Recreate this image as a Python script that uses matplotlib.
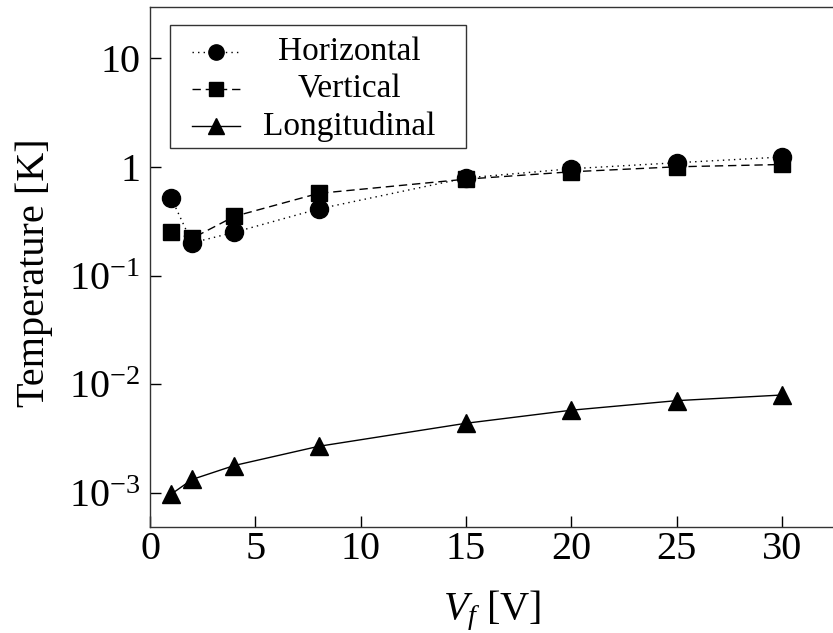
import matplotlib
matplotlib.use("Agg")
import matplotlib.pyplot as plt
from matplotlib.lines import Line2D
from matplotlib.patches import Rectangle

plt.rcParams['font.family'] = ['Liberation Serif', 'DejaVu Serif']
plt.rcParams['mathtext.fontset'] = 'custom'
plt.rcParams['mathtext.rm'] = 'Liberation Serif'
plt.rcParams['mathtext.it'] = 'Liberation Serif:italic'
plt.rcParams['mathtext.bf'] = 'Liberation Serif:bold'

vf = [1, 2, 4, 8, 15, 20, 25, 30]
horizontal = [0.52, 0.20, 0.25, 0.41, 0.79, 0.96, 1.09, 1.23]
vertical = [0.25, 0.22, 0.35, 0.57, 0.77, 0.90, 1.0, 1.05]
longitudinal = [0.98e-3, 1.34e-3, 1.8e-3, 2.7e-3, 4.4e-3, 5.8e-3, 7.1e-3, 8.0e-3]

series_names = ['Horizontal', 'Vertical', 'Longitudinal']

x_ticks = [0, 5, 10, 15, 20, 25, 30]
y_ticks = [1e-3, 1e-2, 1e-1, 1, 10]
y_ticklabels = [r'$10^{-3}$', r'$10^{-2}$', r'$10^{-1}$', '1', '10']

dotted = (0, (1.0, 3.0))
dashed = (0, (6, 3.5))

fig = plt.figure(figsize=(8.33, 6.33), dpi=100)
ax = fig.add_axes([150 / 833, 1 - 527 / 633, 0.822, 520 / 633])

styles = [
    dict(linestyle=dotted, marker='o', markersize=13),
    dict(linestyle=dashed, marker='s', markersize=11.5),
    dict(linestyle='-', marker='^', markersize=13),
]
for ys, st in zip([horizontal, vertical, longitudinal], styles):
    ax.plot(vf, ys, color='black', lw=1.0, **st)

ax.set_yscale('log')
ax.set_xlim(0, 32.5)
ax.set_ylim(4.9e-4, 29.4)
ax.set_xticks(x_ticks)
ax.set_xticklabels([str(t) for t in x_ticks])
ax.set_yticks(y_ticks)
ax.set_yticklabels(y_ticklabels)
ax.minorticks_off()
ax.tick_params(direction='in', length=8, width=1, labelsize=29)
ax.tick_params(axis='x', pad=3)
ax.tick_params(axis='y', pad=7)
ax.spines['right'].set_visible(False)
for s in ax.spines.values():
    s.set_linewidth(1.0)
    s.set_color('#333333')

ax.set_xlabel(r'$V_f$ [V]', fontsize=29)
ax.xaxis.set_label_coords(0.5, -0.118)
ax.set_ylabel('Temperature [K]', fontsize=29)
ax.yaxis.set_label_coords(-0.142, 0.49)

# legend box (centered labels, as in the reference)
ax.add_patch(Rectangle((0.029, 0.729), 0.432, 0.236, transform=ax.transAxes,
                       facecolor='white', edgecolor='#333333', lw=1.0,
                       zorder=5, clip_on=False))
row_y = [0.913, 0.842, 0.771]
leg_ms = [11, 9.5, 11]
for name, st, yy, ms in zip(series_names, styles, row_y, leg_ms):
    ax.add_line(Line2D([0.061, 0.132], [yy, yy], transform=ax.transAxes,
                       color='black', lw=1.0, linestyle=st['linestyle'],
                       zorder=6, clip_on=False))
    ax.add_line(Line2D([0.0965], [yy], transform=ax.transAxes, color='black',
                       marker=st['marker'], markersize=ms, linestyle='none',
                       zorder=7, clip_on=False))
    ax.text(0.291, yy, name, transform=ax.transAxes, ha='center',
            va='center', fontsize=24, zorder=7)

fig.savefig('out.png', dpi=100)
